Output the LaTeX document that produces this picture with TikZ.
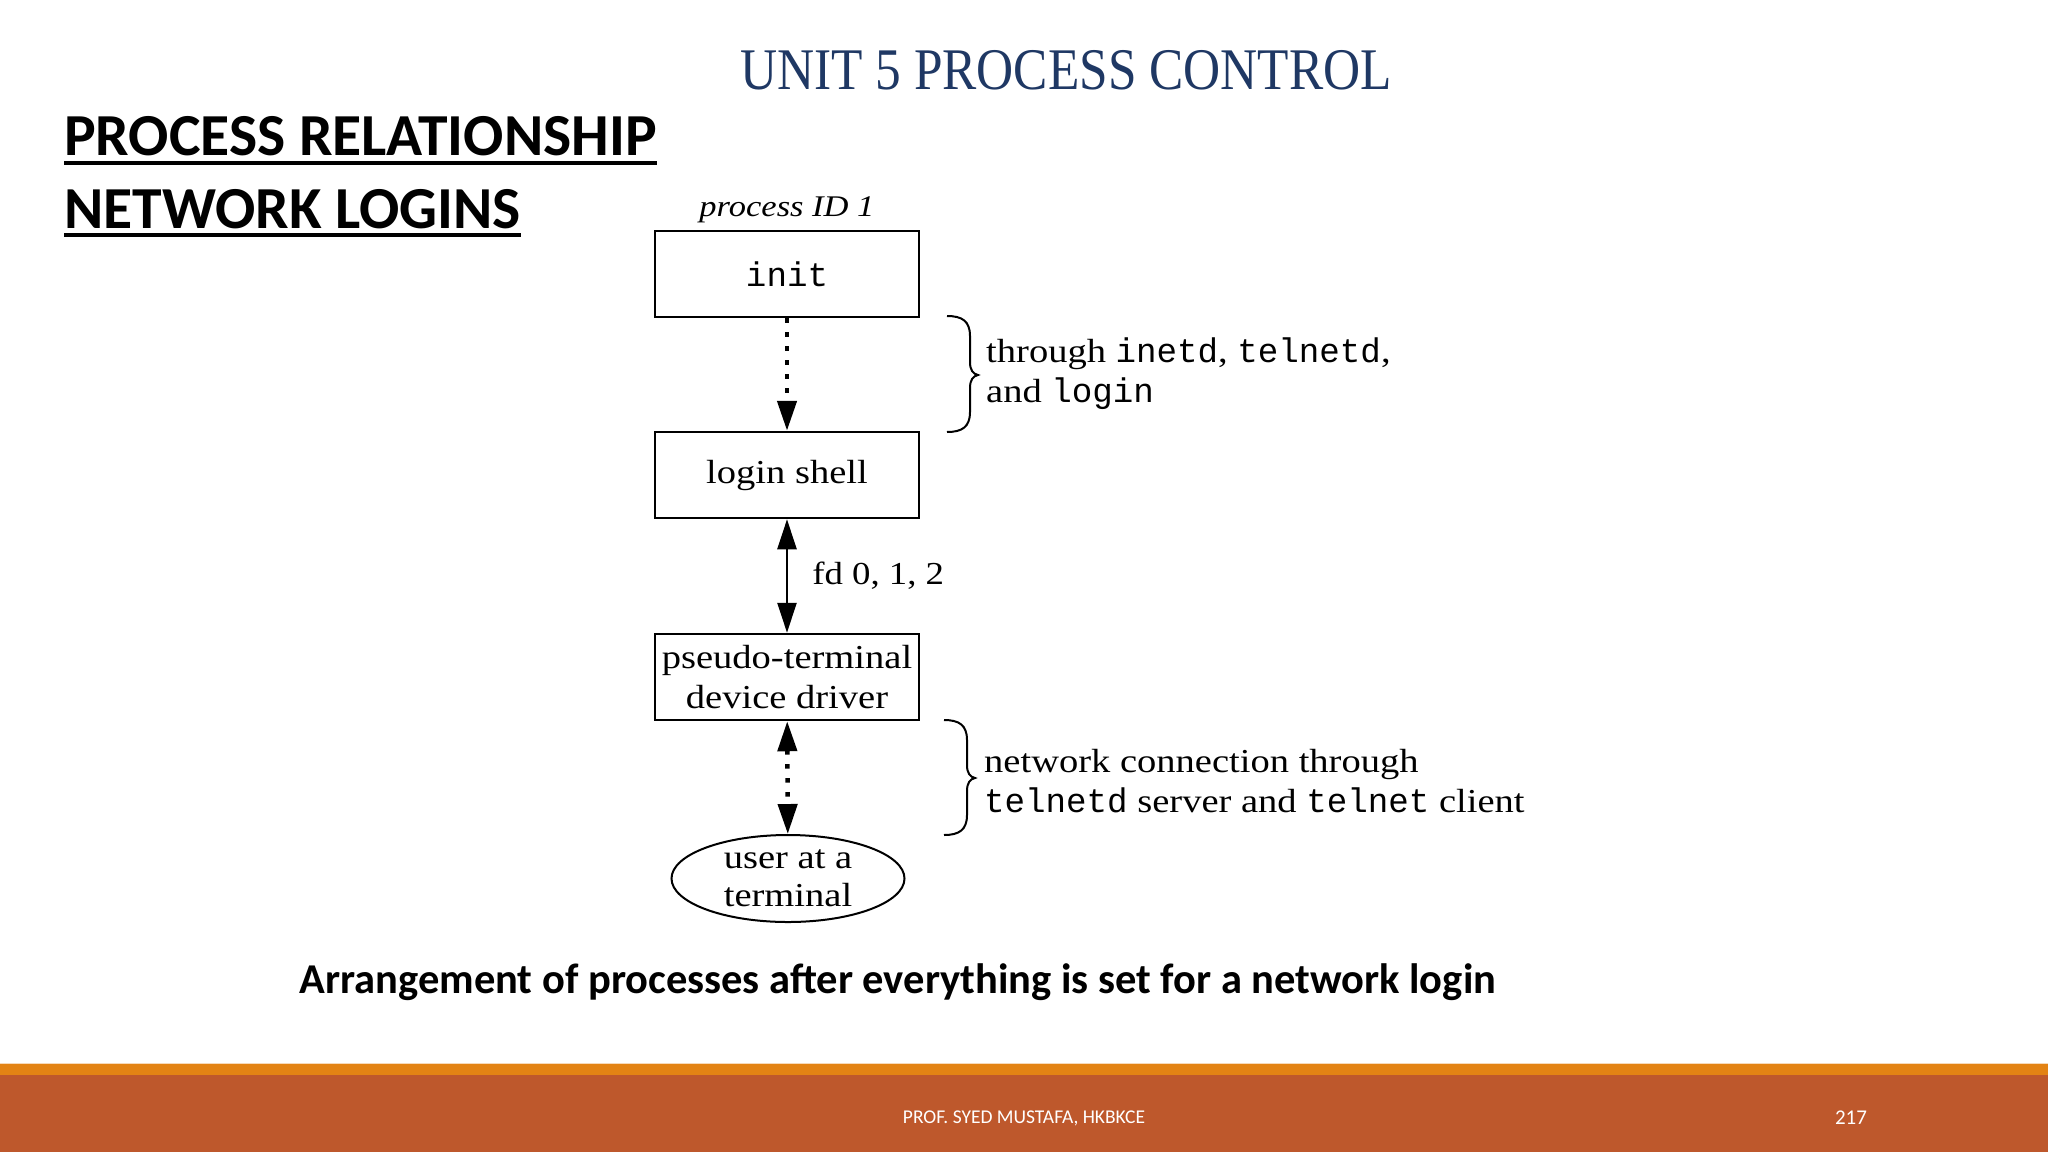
\documentclass[tikz,border=0pt]{standalone}
\usepackage{fontspec}
\setmainfont{Liberation Serif}
\newfontfamily\pal{Liberation Serif}[FakeStretch=1.15]
\newfontfamily\titlef{Liberation Serif}[FakeStretch=0.87]
\newfontfamily\calf{Carlito}
\setmonofont{Liberation Mono}[Scale=1.02]
\usetikzlibrary{arrows.meta,shapes.geometric}
\definecolor{titleblue}{RGB}{31,56,100}
\definecolor{footorange}{RGB}{227,131,20}
\definecolor{footbrown}{RGB}{190,88,44}
\begin{document}
\begin{tikzpicture}[x=1pt,y=-1pt,
  boxnode/.style={draw, line width=2.5pt, minimum width=264pt, minimum height=86pt,
    inner sep=0pt, align=center, font=\pal\fontsize{33.5}{40}\selectfont},
  ellnode/.style={draw, ellipse, line width=2pt, minimum width=233pt, minimum height=87pt,
    inner sep=0pt, align=center, font=\pal\fontsize{33.5}{38}\selectfont},
  lbl/.style={inner sep=0pt, align=left, font=\pal\fontsize{33.5}{40}\selectfont},
  solidarrow/.style={line width=2.5pt},
  dotline/.style={line width=4.5pt, dash pattern=on 4.5pt off 9.5pt},
  bracestyle/.style={line width=2pt},
  heading/.style={inner sep=0pt, anchor=base west, font=\calf\bfseries\fontsize{59.6}{60}\selectfont},
  foottext/.style={inner sep=0pt, anchor=base, text=white}
]
\useasboundingbox (0,0) rectangle (2048,1152);
\fill[white] (0,0) rectangle (2048,1152);

% footer
\fill[footbrown] (0,1075) rectangle (2048,1152);
\fill[footorange] (0,1063) rectangle (2048,1075);
\draw[white!70!footorange, line width=1pt] (0,1063.5) -- (2048,1063.5);
\node[foottext, font=\calf\fontsize{19.5}{20}\selectfont] (footer) at (1024,1123) {PROF. SYED MUSTAFA, HKBKCE};
\node[foottext, font=\calf\fontsize{21}{22}\selectfont] (pagenum) at (1851,1124) {217};

% title
\node[inner sep=0pt, anchor=base, text=titleblue, font=\titlef\fontsize{59}{60}\selectfont] (title) at (1066,89) {UNIT 5 PROCESS CONTROL};

% headings
\node[heading] (h1) at (64,155) {PROCESS RELATIONSHIP};
\node[heading] (h2) at (64,228) {NETWORK LOGINS};
\draw[line width=3.5pt] ([yshift=-8pt]h1.base west) -- ([yshift=-8pt]h1.base east);
\draw[line width=3.5pt] ([yshift=-7pt]h2.base west) -- ([yshift=-7pt]h2.base east);

% diagram
\node[inner sep=0pt, anchor=base, font=\pal\itshape\fontsize{30}{30}\selectfont] (pid) at (787,216) {process ID 1};
\node[boxnode] (init) at (787,274) {\ttfamily init};
\node[boxnode] (login) at (787,475) {login shell};
\node[boxnode] (pty) at (787,677) {pseudo-terminal\\device driver};
\node[ellnode] (user) at (788,878.5) {user at a\\terminal};

\draw[dotline, -{Triangle[length=30pt,width=19pt]}] (init) -- (login);
\draw[solidarrow, {Triangle[length=30pt,width=19pt]}-{Triangle[length=30pt,width=19pt]}] (login) -- (pty)
  node[midway, anchor=west, xshift=24pt, inner sep=0pt, font=\pal\fontsize{32}{34}\selectfont] (fd) {fd 0, 1, 2};
\draw[dotline, {Triangle[length=30pt,width=19pt]}-{Triangle[length=30pt,width=19pt]}] (pty) -- (user);

% braces
\draw[bracestyle] (947,316) .. controls (962,316) and (970,321) .. (970,336) -- (970,362)
  .. controls (970,370) and (973,374) .. (978,375) .. controls (973,376) and (970,380) .. (970,388)
  -- (970,412) .. controls (970,427) and (962,432) .. (947,432);
\node[lbl, anchor=west] (lab1) at (986,374) {through \texttt{inetd}, \texttt{telnetd},\\and \texttt{login}};

\draw[bracestyle] (944,720) .. controls (959,720) and (967,725) .. (967,740) -- (967,765)
  .. controls (967,773) and (970,777) .. (975,778) .. controls (970,779) and (967,783) .. (967,791)
  -- (967,815) .. controls (967,830) and (959,835) .. (944,835);
\node[lbl, anchor=west] (lab2) at (984,781) {network connection through\\\texttt{telnetd} server and \texttt{telnet} client};

% caption
\node[inner sep=0pt, anchor=base, font=\calf\bfseries\fontsize{42.5}{44}\selectfont] (caption) at (898,993)
  {Arrangement of processes after everything is set for a network login};
\end{tikzpicture}
\end{document}
